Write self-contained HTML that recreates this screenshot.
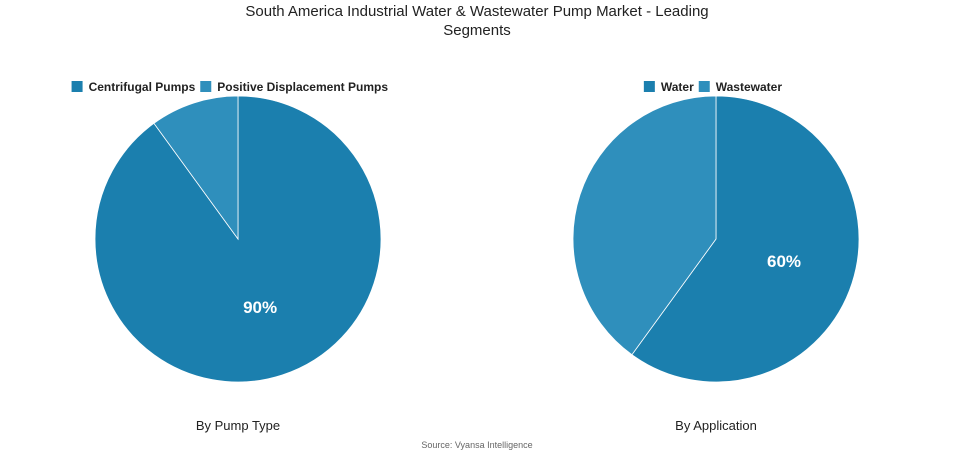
<!DOCTYPE html>
<html><head><meta charset="utf-8"><style>
body{margin:0;background:#fff;width:955px;height:454px;overflow:hidden;font-family:"Liberation Sans",sans-serif}
</style></head><body>
<svg width="955" height="454">
<text x="477" y="16" text-anchor="middle" font-size="15" fill="#222">South America Industrial Water &amp; Wastewater Pump Market - Leading</text>
<text x="477" y="35" text-anchor="middle" font-size="15" fill="#222">Segments</text>
<g id="p1"></g><g id="p2"></g>
<text x="238" y="430" text-anchor="middle" font-size="13" fill="#222">By Pump Type</text>
<text x="716" y="430" text-anchor="middle" font-size="13" fill="#222">By Application</text>
<text x="477" y="448" text-anchor="middle" font-size="9" fill="#666">Source: Vyansa Intelligence</text>
</svg>
<script>
const pumpCats=["Centrifugal Pumps","Positive Displacement Pumps"];
const pumpVals=[90,10];
const appCats=["Water","Wastewater"];
const appVals=[60,40];
const colors=["#1b7fae","#2f8fbc"];
const NS="http://www.w3.org/2000/svg";
function mk(t,a,p){const e=document.createElementNS(NS,t);for(const k in a)e.setAttribute(k,a[k]);p.appendChild(e);return e;}
function pie(g,cx,cy,r,cats,vals,legendRight){
  const tot=vals.reduce((a,b)=>a+b,0);let a0=0;
  vals.forEach((v,i)=>{
    const a1=a0+v/tot*2*Math.PI;
    const x0=cx+r*Math.sin(a0),y0=cy-r*Math.cos(a0),x1=cx+r*Math.sin(a1),y1=cy-r*Math.cos(a1);
    const p=mk('path',{d:`M${cx},${cy}L${x0},${y0}A${r},${r} 0 ${a1-a0>Math.PI?1:0} 1 ${x1},${y1}Z`,fill:colors[i],stroke:'#fff','stroke-width':0.8},g);
    
    
    if(i===0){const m=(a0+a1)/2;
      const t=mk('text',{x:cx+r*0.5*Math.sin(m),y:cy-r*0.5*Math.cos(m)+6,'text-anchor':'middle','font-size':17,'font-weight':'bold',fill:'#fff'},g);
      t.textContent=v+'%';
      
      }
    a0=a1;
  });
  const lg=mk('g',{},g);
  
  
  let x=0;
  cats.forEach((c,i)=>{
    const r=mk('rect',{x:x,y:81,width:11,height:11,fill:colors[i]},lg);
    
    
    const t=mk('text',{x:x+17,y:91,'font-size':12,'font-weight':'bold',fill:'#222'},lg);
    t.textContent=c;
    
    
    x+=17+t.getComputedTextLength()+(i<cats.length-1?5:0);
  });
  lg.setAttribute('transform','translate('+(legendRight-x)+',0)');
}
pie(document.getElementById('p1'),238,239,143,pumpCats,pumpVals,388);
pie(document.getElementById('p2'),716,239,143,appCats,appVals,782);
</script>
</body></html>
